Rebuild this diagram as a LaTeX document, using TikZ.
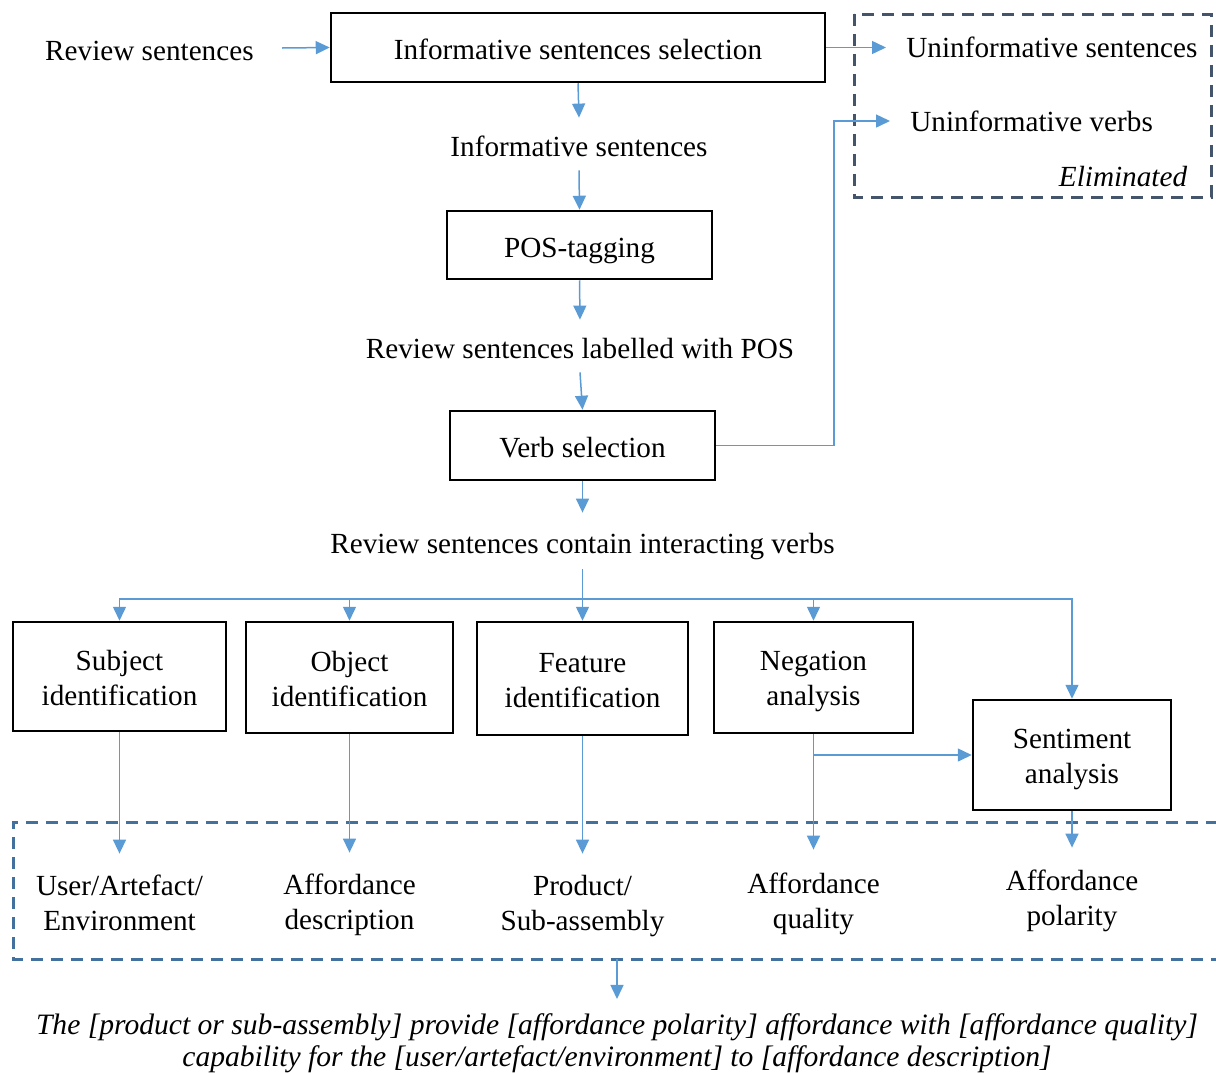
\documentclass[tikz,border=0pt]{standalone}
\usepackage{fontspec}
\setmainfont{Liberation Serif}
\usetikzlibrary{arrows.meta}
\definecolor{cblue}{HTML}{5B9BD5}
\definecolor{cslate}{HTML}{44546A}
\definecolor{csteel}{HTML}{41719C}
\newcommand\twol[2]{\rule{0pt}{14pt}#1\\#2\rule[-3pt]{0pt}{3pt}}
\begin{document}
\begin{tikzpicture}[x=0.5pt,y=-0.5pt,
  font=\fontsize{14.6}{17.5}\selectfont,
  box/.style={draw=black,line width=1.25pt,align=center,inner sep=0pt},
  one/.style={text height=15pt,text depth=3pt},
  txt/.style={align=center,inner sep=0pt},
  arr/.style={draw=cblue,line width=0.75pt,-{Triangle[length=7pt,width=6.5pt]}},
  ln/.style={draw=cblue,line width=0.75pt},
  dbox/.style={line width=1.5pt,dash pattern=on 6pt off 4pt}]
\useasboundingbox (0,0) rectangle (1216,1072);

% top row
\node[box,one,minimum width=247pt,minimum height=34.5pt] (sel) at (578,47.5) {Informative sentences selection};
\node[txt,one,anchor=east,inner xsep=14pt] (rs) at (282,48) {Review sentences};
\node[txt,one,anchor=west,inner xsep=10pt] (us) at (886,45) {Uninformative sentences};
\node[txt,one,anchor=west,inner xsep=10pt] (uv) at (890,119) {Uninformative verbs};
\node[txt,one,font=\fontsize{14.6}{17.5}\selectfont\itshape] (elim) at (1123,174) {Eliminated};
\draw[dbox,draw=cslate] (854,14) rectangle (1211,197);

% column
\node[txt,one,minimum height=26pt] (is) at (579,144) {Informative sentences};
\node[box,one,minimum width=132.5pt,minimum height=34pt] (pos) at (579.5,245) {POS-tagging};
\node[txt,one,minimum height=26pt] (rsl) at (580,346) {Review sentences labelled with POS};
\node[box,one,minimum width=132.5pt,minimum height=34.5pt] (verb) at (582.5,445.5) {Verb selection};
\node[txt,one,minimum height=28pt] (rsc) at (582.5,541) {Review sentences contain interacting verbs};

% analysis boxes
\node[box,minimum width=106.5pt,minimum height=54.5pt] (subj) at (119.5,676.5) {\twol{Subject}{identification}};
\node[box,minimum width=103.5pt,minimum height=55.5pt] (obj) at (349.5,677.5) {\twol{Object}{identification}};
\node[box,minimum width=105.5pt,minimum height=56.5pt] (feat) at (582.5,678.5) {\twol{Feature}{identification}};
\node[box,minimum width=99.5pt,minimum height=55.5pt] (neg) at (813.5,677.5) {\twol{Negation}{analysis}};
\node[box,minimum width=99pt,minimum height=55pt] (sent) at (1072,755) {\twol{Sentiment}{analysis}};

% outputs
\draw[dbox,draw=csteel] (1218,822) -- (13,822) -- (13,959) -- (1218,959);
\node[txt,minimum height=48pt] (ua) at (119.5,902) {\twol{User/Artefact/}{Environment}};
\node[txt,minimum height=48pt] (ad) at (349.5,901) {\twol{Affordance}{description}};
\node[txt,minimum height=48pt] (ps) at (582.5,902) {\twol{Product/}{Sub-assembly}};
\node[txt,minimum height=50pt] (aq) at (813.5,900) {\twol{Affordance}{quality}};
\node[txt,minimum height=49pt] (ap) at (1072,897) {\twol{Affordance}{polarity}};
\coordinate (outb) at (617,959);
\node[txt,inner ysep=7pt,font=\fontsize{14.8}{16}\selectfont\itshape] (concl) at (617,1043)
  {The [product or sub-assembly] provide [affordance polarity] affordance with [affordance quality]\\capability for the [user/artefact/environment] to [affordance description]};

% connectors
\draw[arr] (rs.east) -- (sel.west);
\draw[arr] (sel.east) -- (sel.east -| us.west);
\draw[arr] (sel.south) -- (is.north);
\draw[arr] (is.south) -- (pos.north);
\draw[arr] (pos.south) -- (rsl.north);
\draw[arr] (rsl.south) -- (verb.north);
\draw[arr] (verb.south) -- (rsc.north);
\coordinate (vturn) at (834,121);
\draw[arr] (verb.east) -| (vturn) -- (vturn -| uv.west);
\coordinate (bus) at (582.5,599);
\draw[ln] (rsc.south) -- (bus);
\draw[arr] (bus) -| (subj.north);
\draw[arr] (bus) -| (obj.north);
\draw[arr] (bus) -- (feat.north);
\draw[arr] (bus) -| (neg.north);
\draw[arr] (bus) -| (sent.north);
\draw[arr] (subj.south) -- (ua.north);
\draw[arr] (obj.south) -- (ad.north);
\draw[arr] (feat.south) -- (ps.north);
\draw[arr] (neg.south) -- (aq.north);
\draw[arr] (neg.south |- sent.west) -- (sent.west);
\draw[arr] (sent.south) -- (ap.north);
\draw[arr] (outb) -- (concl.north);
\end{tikzpicture}
\end{document}
